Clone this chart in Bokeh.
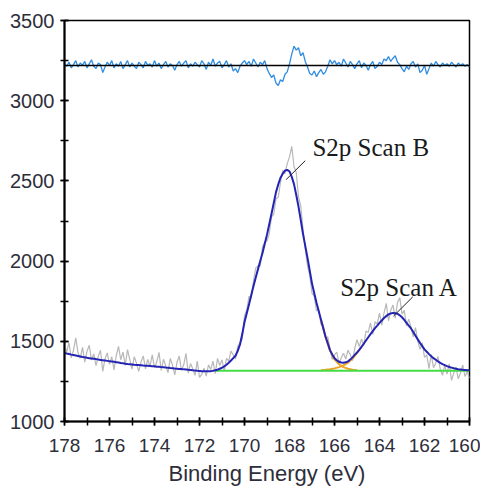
from bokeh.plotting import figure
from bokeh.models import Range1d, FixedTicker, ColumnDataSource
from bokeh.core.properties import value
from bokeh.embed import file_html
from bokeh.resources import INLINE

# ---- data ----
energy = [round(178 - 0.1 * i, 1) for i in range(181)]

counts = [
    1478, 1434, 1491, 1397, 1444, 1521, 1428, 1395, 1462, 1370,
    1437, 1475, 1383, 1421, 1349, 1406, 1444, 1312, 1390, 1428,
    1356, 1404, 1322, 1410, 1468, 1385, 1433, 1350, 1448, 1387,
    1326, 1404, 1363, 1312, 1371, 1409, 1328, 1387, 1346, 1415,
    1334, 1372, 1431, 1319, 1388, 1346, 1305, 1393, 1352, 1290,
    1369, 1408, 1317, 1355, 1424, 1302, 1361, 1329, 1288, 1376,
    1275, 1294, 1333, 1283, 1353, 1324, 1376, 1299, 1393, 1349,
    1385, 1314, 1394, 1376, 1440, 1415, 1390, 1470, 1490, 1515,
    1660, 1695, 1780, 1768, 1875, 1958, 1970, 1970, 2090, 2118,
    2125, 2170, 2275, 2292, 2390, 2398, 2490, 2565, 2545, 2608,
    2650, 2715, 2590, 2552, 2400, 2345, 2200, 2075, 1970, 1910,
    1800, 1780, 1690, 1698, 1605, 1602, 1520, 1528, 1455, 1388,
    1415, 1432, 1362, 1398, 1426, 1389, 1445, 1416, 1380, 1455,
    1510, 1467, 1515, 1475, 1565, 1555, 1615, 1543, 1622, 1608,
    1675, 1600, 1675, 1737, 1628, 1693, 1727, 1645, 1742, 1772,
    1670, 1693, 1595, 1638, 1590, 1528, 1585, 1502, 1450, 1490,
    1400, 1415, 1330, 1417, 1335, 1365, 1405, 1326, 1288, 1351,
    1295, 1360, 1256, 1302, 1339, 1266, 1304, 1352, 1281, 1310,
    1270,
]

envelope = [
    1428, 1424, 1421, 1417, 1414, 1411, 1408, 1405, 1402, 1400,
    1397, 1395, 1393, 1391, 1389, 1386, 1384, 1382, 1380, 1378,
    1376, 1374, 1372, 1370, 1368, 1365, 1363, 1360, 1358, 1357,
    1356, 1354, 1353, 1352, 1351, 1349, 1348, 1347, 1346, 1345,
    1344, 1342, 1341, 1339, 1338, 1336, 1335, 1333, 1332, 1330,
    1329, 1328, 1327, 1325, 1324, 1322, 1321, 1319, 1318, 1316,
    1315, 1314, 1313, 1313, 1313, 1314, 1316, 1319, 1323, 1329,
    1335, 1344, 1354, 1366, 1380, 1395, 1410, 1440, 1480, 1545,
    1620, 1675, 1730, 1788, 1845, 1898, 1950, 2000, 2050, 2108,
    2165, 2230, 2295, 2362, 2430, 2478, 2520, 2545, 2565, 2568,
    2560, 2525, 2480, 2412, 2340, 2255, 2170, 2095, 2020, 1940,
    1860, 1800, 1740, 1688, 1635, 1582, 1530, 1488, 1445, 1418,
    1395, 1382, 1372, 1368, 1366, 1369, 1375, 1386, 1400, 1415,
    1430, 1447, 1465, 1485, 1505, 1525, 1545, 1563, 1582, 1598,
    1615, 1630, 1645, 1657, 1668, 1673, 1677, 1675, 1672, 1662,
    1650, 1633, 1615, 1598, 1580, 1558, 1535, 1512, 1490, 1470,
    1450, 1435, 1420, 1407, 1395, 1385, 1375, 1366, 1358, 1351,
    1345, 1340, 1336, 1332, 1329, 1326, 1324, 1322, 1321, 1320,
    1320,
]

residual = [
    3230, 3215, 3240, 3205, 3225, 3250, 3210, 3235, 3220, 3245,
    3205, 3230, 3255, 3215, 3200, 3235, 3225, 3175, 3210, 3240,
    3220, 3250, 3205, 3230, 3215, 3245, 3200, 3225, 3250, 3210,
    3235, 3215, 3200, 3240, 3225, 3205, 3245, 3220, 3230, 3210,
    3250, 3215, 3235, 3200, 3225, 3245, 3210, 3230, 3220, 3190,
    3225, 3245, 3215, 3235, 3250, 3205, 3230, 3215, 3240, 3225,
    3210, 3250, 3230, 3195, 3240, 3220, 3260, 3215, 3235, 3245,
    3205, 3225, 3250, 3210, 3230, 3185, 3200, 3175, 3215, 3235,
    3250, 3225, 3245, 3215, 3260, 3235, 3210, 3240, 3225, 3250,
    3200, 3170, 3145, 3160, 3110, 3095, 3130, 3120, 3165, 3180,
    3230, 3290, 3340, 3315, 3330, 3280, 3300, 3245, 3210, 3170,
    3160, 3185, 3150, 3175, 3195, 3165, 3180, 3215, 3255, 3230,
    3250, 3225, 3240, 3215, 3260, 3235, 3210, 3245, 3225, 3200,
    3230, 3250, 3205, 3235, 3220, 3190, 3225, 3245, 3200, 3215,
    3240, 3225, 3260, 3250, 3275, 3245, 3265, 3280, 3240, 3225,
    3200, 3180, 3215, 3195, 3230, 3245, 3210, 3230, 3175, 3190,
    3220, 3165, 3200, 3235, 3215, 3245, 3225, 3210, 3235, 3220,
    3230, 3215, 3240, 3225, 3210, 3235, 3220, 3230, 3215, 3225,
    3210,
]
residual_zero = 3219

comp_b_x = [166.6, 166.4, 166.2, 166.0, 165.8, 165.6, 165.4, 165.2, 165.0]
comp_b = [1635, 1527, 1442, 1387, 1357, 1339, 1329, 1323, 1320]
comp_a_x = [166.6, 166.4, 166.2, 166.0, 165.8, 165.6, 165.4, 165.2, 165.0, 164.8]
comp_a = [1320, 1322, 1326, 1331, 1339, 1350, 1367, 1392, 1427, 1465]

baseline_x = [171.3, 160.0]
baseline = [1317, 1317]

x_ticks = [160, 162, 164, 166, 168, 170, 172, 174, 176, 178]
x_minor = list(range(160, 179))
y_ticks = [1000, 1500, 2000, 2500, 3000, 3500]
y_minor = [1000, 1250, 1500, 1750, 2000, 2250, 2500, 2750, 3000, 3250, 3500]

label_b = "S2p Scan B"
label_a = "S2p Scan A"

# ---- figure ----
p = figure(width=480, height=492,
           x_range=Range1d(178, 160), y_range=Range1d(1000, 3500),
           output_backend="svg", toolbar_location=None,
           min_border_left=64, min_border_right=11,
           min_border_top=20, min_border_bottom=71)
p.background_fill_color = "white"
p.border_fill_color = "white"
p.xgrid.visible = False
p.ygrid.visible = False
p.outline_line_color = "black"
p.outline_line_width = 1.5

src = ColumnDataSource(dict(x=energy, counts=counts, fit=envelope, res=residual))

p.line("x", "counts", source=src, line_color="#b8b8b8", line_width=1.2)
p.line("x", "res", source=src, line_color="#2f8ce0", line_width=1.3)
p.line([energy[0], energy[-1]], [residual_zero, residual_zero], line_color="black", line_width=1.5)
p.line(comp_b_x, comp_b, line_color="#f0a428", line_width=2)
p.line(comp_a_x, comp_a, line_color="#f0a428", line_width=2)
p.line(baseline_x, baseline, line_color="#44dd44", line_width=2)
p.line("x", "fit", source=src, line_color="#2424b4", line_width=2)

# annotations anchored to the peak maxima of the envelope
ib = max(range(90, 110), key=lambda i: envelope[i])
ia = max(range(140, 160), key=lambda i: envelope[i])
p.segment(x0=[energy[ib] + 0.05, energy[ia] - 0.02], y0=[envelope[ib] - 60, envelope[ia] - 20],
          x1=[energy[ib] - 0.8, energy[ia] - 0.88], y1=[envelope[ib] + 58, envelope[ia] + 100],
          line_color="#222222", line_width=1)
p.text(x=[energy[ib] - 1.12, energy[ia] + 2.35], y=[envelope[ib] + 140, envelope[ia] + 156],
       text=[label_b, label_a], text_font=value("Liberation Serif"), text_font_size="25px",
       text_color="#1a1a1a", text_align="left", text_baseline="alphabetic")

for ax in (p.xaxis[0], p.yaxis[0]):
    ax.axis_line_color = "black"
    ax.axis_line_width = 2
    ax.major_tick_line_color = "black"
    ax.major_tick_line_width = 1.5
    ax.minor_tick_line_color = "black"
    ax.minor_tick_line_width = 1.5
    ax.major_tick_in = 4
    ax.major_tick_out = 4
    ax.minor_tick_in = 4
    ax.minor_tick_out = 4
    ax.major_label_text_font = "Liberation Sans"
    ax.major_label_text_color = "#2e2e3a"

p.xaxis.ticker = FixedTicker(ticks=x_ticks, minor_ticks=x_minor)
p.yaxis.ticker = FixedTicker(ticks=y_ticks, minor_ticks=y_minor)
p.xaxis.major_label_text_font_size = "19px"
p.yaxis.major_label_text_font_size = "20px"
p.xaxis.major_label_standoff = 13
p.yaxis.major_label_standoff = 6
p.xaxis.axis_label = "Binding Energy (eV)"
p.xaxis.axis_label_text_font = "Liberation Sans"
p.xaxis.axis_label_text_font_style = "normal"
p.xaxis.axis_label_text_font_size = "22px"
p.xaxis.axis_label_text_color = "#2e2e3a"
p.xaxis.axis_label_standoff = 6

open("out.html", "w").write(file_html(p, INLINE))
